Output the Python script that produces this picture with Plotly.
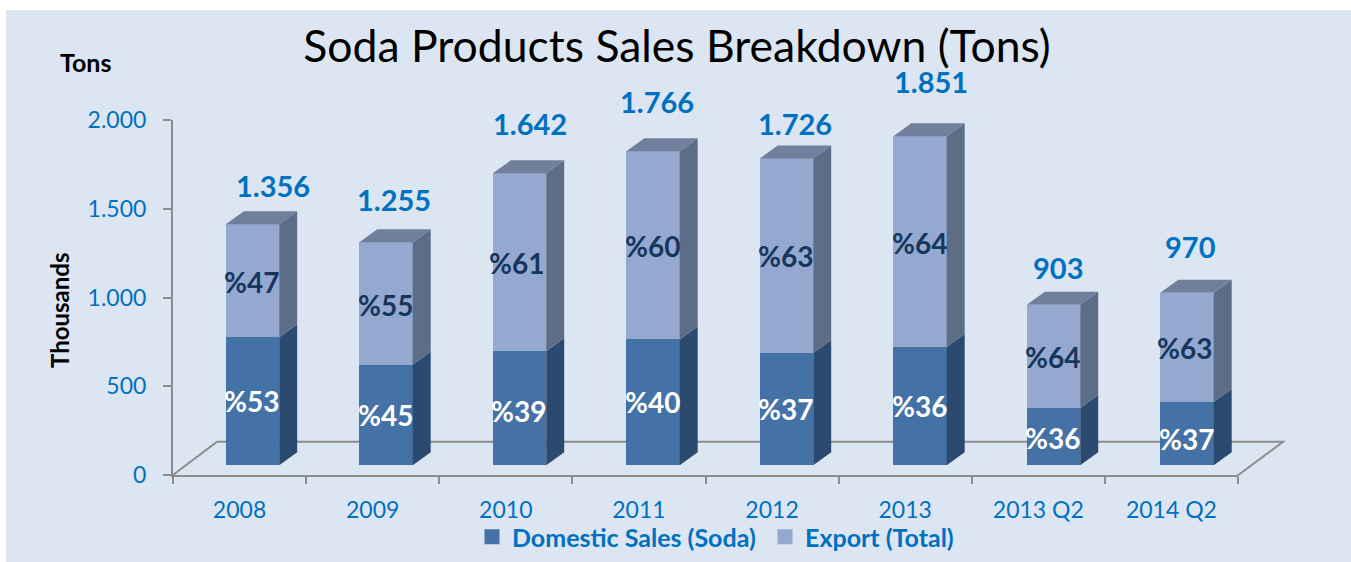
import plotly.graph_objects as go

# ---------- data ----------
categories = ["2008", "2009", "2010", "2011", "2012", "2013", "2013 Q2", "2014 Q2"]
domestic = [720, 565, 642, 708, 632, 665, 322, 356]
export = [636, 690, 1000, 1058, 1094, 1186, 581, 614]
total_labels = ["1.356", "1.255", "1.642", "1.766", "1.726", "1.851", "903", "970"]
domestic_pct = ["%53", "%45", "%39", "%40", "%37", "%36", "%36", "%37"]
export_pct = ["%47", "%55", "%61", "%60", "%63", "%64", "%64", "%63"]
series_names = ["Domestic Sales (Soda)", "Export (Total)"]

# ---------- styling / hand placement of labels (pixels) ----------
W, H = 1351, 562
FONT = "Lato, 'Open Sans', sans-serif"
BLUE = "#0070C0"
GREY = "#8C8C8C"
C_DOM, C_DOM_SIDE = "#4472A6", "#2C4A70"
C_EXP, C_EXP_SIDE, C_TOP = "#95A9D0", "#5D6D85", "#707F9C"
total_dx = [20, 8, 10, 4, 8, 11, 4, 3]
total_dy = [26, 30, 37, 37, 22, 42, 24, 33]
dom_dy = [0, 0, -3, 0, 0, 0, -1, -5]
exp_dy = [-1, -1, -1, -1, 0, -1, -1, -1]
exp_dx = [-1, -1, -3, -1, -1, -1, -1, -3]

BAR_W = 0.40
DX = 18 / 133.5      # depth of the 3D look, x units
DY = 13 / 0.1778     # depth of the 3D look, y units


def px(x):
    return x / W


def py(y):
    return (H - y) / H


idx = list(range(len(categories)))
totals = [d + e for d, e in zip(domestic, export)]


def polys(faces):
    xs, ys = [], []
    for f in faces:
        xs += [p[0] for p in f] + [f[0][0], None]
        ys += [p[1] for p in f] + [f[0][1], None]
    return xs, ys


def side(i, y0, y1):
    r = i + BAR_W / 2
    return [(r, y0), (r + DX, y0 + DY), (r + DX, y1 + DY), (r, y1)]


def top(i, y):
    l, r = i - BAR_W / 2, i + BAR_W / 2
    return [(l, y), (r, y), (r + DX, y + DY), (l + DX, y + DY)]


fig = go.Figure()

# carrier for the visible category axis + legend entries
fig.add_trace(go.Scatter(x=categories, y=[None] * len(categories), mode="lines",
                         showlegend=False, hoverinfo="skip", xaxis="x", yaxis="y"))
for name, color in zip(series_names, [C_DOM, C_EXP]):
    fig.add_trace(go.Scatter(x=[categories[0]], y=[None], mode="markers", name=f"<b>{name}</b>",
                             marker=dict(symbol="square", size=15, color=color),
                             showlegend=True, xaxis="x", yaxis="y"))

# front faces
fig.add_trace(go.Bar(x=idx, y=domestic, width=BAR_W, marker_color=C_DOM, marker_line_width=0,
                     showlegend=False, xaxis="x2", yaxis="y2"))
fig.add_trace(go.Bar(x=idx, y=export, width=BAR_W, marker_color=C_EXP, marker_line_width=0,
                     showlegend=False, xaxis="x2", yaxis="y2"))

# side and top faces, derived from the same values
for faces, color in [
    ([side(i, 0, domestic[i]) for i in idx], C_DOM_SIDE),
    ([side(i, domestic[i], totals[i]) for i in idx], C_EXP_SIDE),
    ([top(i, totals[i]) for i in idx], C_TOP),
]:
    xs, ys = polys(faces)
    fig.add_trace(go.Scatter(x=xs, y=ys, mode="lines", fill="toself", fillcolor=color,
                             line=dict(width=0), showlegend=False, hoverinfo="skip",
                             xaxis="x2", yaxis="y2"))

ann = []
for i in idx:
    ann.append(dict(x=i, y=totals[i] + DY, xref="x2", yref="y2", text=f"<b>{total_labels[i]}</b>",
                    showarrow=False, xanchor="center", yanchor="middle",
                    xshift=total_dx[i], yshift=total_dy[i], font=dict(size=29, color=BLUE, family=FONT)))
    ann.append(dict(x=i, y=domestic[i] / 2, xref="x2", yref="y2", text=f"<b>{domestic_pct[i]}</b>",
                    showarrow=False, xanchor="center", yanchor="middle", xshift=-1, yshift=dom_dy[i],
                    font=dict(size=28, color="#FFFFFF", family=FONT)))
    ann.append(dict(x=i, y=domestic[i] + export[i] / 2, xref="x2", yref="y2", text=f"<b>{export_pct[i]}</b>",
                    showarrow=False, xanchor="center", yanchor="middle", xshift=exp_dx[i], yshift=exp_dy[i],
                    font=dict(size=28, color="#17365D", family=FONT)))
ann.append(dict(x=px(85), y=py(62), xref="paper", yref="paper", text="<b>Tons</b>", showarrow=False,
                xanchor="center", yanchor="middle",
                font=dict(size=25, color="#000000", family=FONT)))
ann.append(dict(x=px(60), y=py(311), xref="paper", yref="paper", text="<b>Thousands</b>", showarrow=False,
                xanchor="center", yanchor="middle",
                textangle=-90, font=dict(size=24, color="#000000", family=FONT)))

fig.update_layout(
    width=W, height=H, margin=dict(l=0, r=0, t=0, b=0, pad=0, autoexpand=False),
    paper_bgcolor="#FFFFFF", plot_bgcolor="rgba(0,0,0,0)",
    separators=",.", barmode="stack", showlegend=True,
    font=dict(family=FONT),
    title=dict(text="Soda Products Sales Breakdown (Tons)", x=px(677), y=py(46), xref="paper", yref="paper",
               xanchor="center", yanchor="middle", font=dict(size=44.5, color="#000000", family=FONT)),
    xaxis=dict(domain=[px(173), px(1238)], type="category", categoryorder="array", categoryarray=categories,
               range=[-0.5, 7.5], tickson="boundaries", ticks="outside", ticklen=7, tickwidth=2, tickcolor=GREY,
               showline=True, linecolor=GREY, linewidth=2, showgrid=False, zeroline=False,
               tickfont=dict(size=23, color=BLUE, family=FONT), anchor="y", ticklabelstandoff=13),
    yaxis=dict(domain=[py(475), py(120)], range=[0, 2000], tickvals=[0, 500, 1000, 1500, 2000], tickformat=",d",
               ticks="outside", ticklen=8, tickwidth=2, tickcolor=GREY, showline=True, linecolor=GREY, linewidth=2,
               showgrid=False, zeroline=False, tickfont=dict(size=23, color=BLUE, family=FONT), anchor="x",
               ticklabelstandoff=12),
    xaxis2=dict(domain=[px(185.75), px(1253.75)], range=[-0.5, 7.5], visible=False, anchor="y2"),
    yaxis2=dict(domain=[py(465.3), py(109.7)], range=[0, 2000], visible=False, anchor="x2"),
    legend=dict(orientation="h", x=px(472), y=py(537), xanchor="left", yanchor="middle", itemsizing="trace",
                traceorder="normal", entrywidthmode="pixels", entrywidth=248,
                font=dict(size=25, color=BLUE, family=FONT), bgcolor="rgba(0,0,0,0)", itemclick=False),
    annotations=ann,
    shapes=[
        dict(type="rect", xref="paper", yref="paper", x0=px(6), x1=1, y0=0, y1=py(10),
             fillcolor="#DCE6F2", line_width=0, layer="below"),
        dict(type="path", xref="paper", yref="paper", layer="below", line=dict(color=GREY, width=2),
             path=f"M {px(173)} {py(475)} L {px(217)} {py(441.7)} L {px(1283)} {py(441.7)} L {px(1237)} {py(476)}"),
    ],
)

fig.write_html("out.html", config=dict(displayModeBar=False),
               post_script="document.body.style.margin='0';document.documentElement.style.overflow='hidden';")
